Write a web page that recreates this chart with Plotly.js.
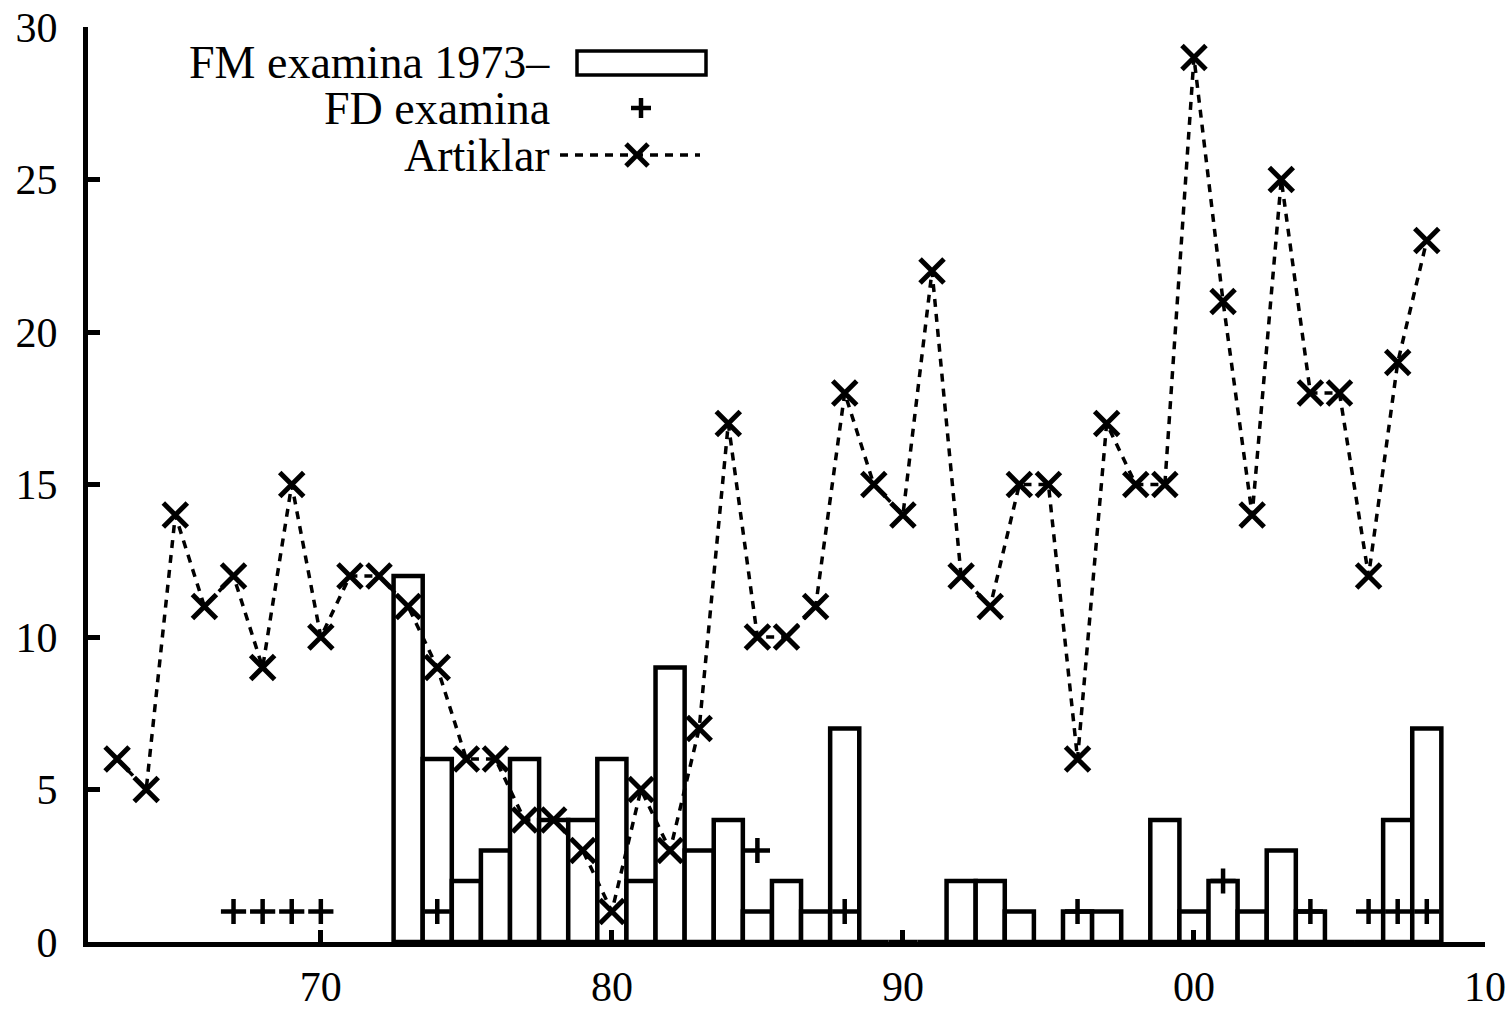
<!DOCTYPE html>
<html>
<head>
<meta charset="utf-8">
<script src="https://cdn.plot.ly/plotly-3.0.1.min.js"></script>
<style>html,body{margin:0;padding:0;background:#fff;}#chart{width:1512px;height:1011px;}</style>
</head>
<body>
<div id="chart"></div>
<script>
// Years are given as years since 1900 (63 = 1963, 108 = 2008)
const fmYears = [73,74,75,76,77,78,79,80,81,82,83,84,85,86,87,88,89,90,91,92,93,94,95,96,97,98,99,100,101,102,103,104,105,106,107,108];
const fmValues = [12,6,2,3,6,4,4,6,2,9,3,4,1,2,1,7,0,0,0,2,2,1,0,1,1,0,4,1,2,1,3,1,0,0,4,7];

const fdYears = [67,68,69,70,74,85,88,96,101,104,106,107,108];
const fdValues = [1,1,1,1,1,3,1,1,2,1,1,1,1];

const artYears = [63,64,65,66,67,68,69,70,71,72,73,74,75,76,77,78,79,80,81,82,83,84,85,86,87,88,89,90,91,92,93,94,95,96,97,98,99,100,101,102,103,104,105,106,107,108];
const artValues = [6,5,14,11,12,9,15,10,12,12,11,9,6,6,4,4,3,1,5,3,7,17,10,10,11,18,15,14,22,12,11,15,15,6,17,15,15,29,21,14,25,18,18,12,19,23];

const xTickVals = [70,80,90,100,110];
const xTickText = ["70","80","90","00","10"];
const yTickVals = [0,5,10,15,20,25,30];

const legendLabels = ["FM examina 1973\u2013","FD examina","Artiklar"];

const FONT = "Liberation Serif, Times New Roman, serif";
const W = 1512, H = 1011;
const L = 88, R = 1485, T = 27, B = 942;
const px = x => (x - L) / (R - L);
const py = y => (B - y) / (B - T);

const traces = [
  {
    type: 'bar', x: fmYears, y: fmValues, width: 1,
    marker: {color: 'white', line: {color: 'black', width: 4.5}},
    name: legendLabels[0], showlegend: false, hoverinfo: 'x+y'
  },
  {
    type: 'scatter', mode: 'markers', x: fdYears, y: fdValues,
    marker: {symbol: 'cross-thin', size: 18, color: 'black', line: {color: 'black', width: 4.5}},
    name: legendLabels[1], showlegend: false, cliponaxis: false
  },
  {
    type: 'scatter', mode: 'lines+markers', x: artYears, y: artValues,
    line: {color: 'black', width: 3.5, dash: '8px,7px'},
    marker: {symbol: 'x-thin', size: 24, color: 'black', line: {color: 'black', width: 5}},
    name: legendLabels[2], showlegend: false, cliponaxis: false
  }
];

const textY = [63, 108, 155];
const annotations = legendLabels.map((t, i) => ({
  xref: 'paper', yref: 'paper', x: px(552), y: py(textY[i]),
  xanchor: 'right', yanchor: 'middle', showarrow: false,
  text: t, font: {family: FONT, size: 46, color: 'black'}
}));

const shapes = [
  {type: 'rect', xref: 'paper', yref: 'paper', x0: px(577), x1: px(706), y0: py(75), y1: py(51),
   line: {color: 'black', width: 3.5}, fillcolor: 'white'},
  {type: 'line', xref: 'paper', yref: 'paper', x0: px(631), x1: px(651), y0: py(108), y1: py(108), line: {color: 'black', width: 4.5}},
  {type: 'line', xref: 'paper', yref: 'paper', x0: px(641), x1: px(641), y0: py(98), y1: py(118), line: {color: 'black', width: 4.5}},
  {type: 'line', xref: 'paper', yref: 'paper', x0: px(560), x1: px(700), y0: py(155), y1: py(155), line: {color: 'black', width: 3.5, dash: '8px,7px'}},
  {type: 'line', xref: 'paper', yref: 'paper', x0: px(626), x1: px(648), y0: py(144), y1: py(166), line: {color: 'black', width: 5}},
  {type: 'line', xref: 'paper', yref: 'paper', x0: px(626), x1: px(648), y0: py(166), y1: py(144), line: {color: 'black', width: 5}}
];

const layout = {
  width: W, height: H,
  margin: {l: L, r: W - R, t: T, b: H - B, pad: 0},
  paper_bgcolor: 'white', plot_bgcolor: 'white',
  showlegend: false, bargap: 0,
  font: {family: FONT, color: 'black'},
  xaxis: {
    range: [62, 110], tickvals: xTickVals, ticktext: xTickText,
    showgrid: false, zeroline: false, showline: true, linecolor: 'black', linewidth: 5,
    ticks: 'inside', ticklen: 12, tickwidth: 5, tickcolor: 'black',
    tickfont: {family: FONT, size: 42, color: 'black'}, ticklabelstandoff: 4
  },
  yaxis: {
    range: [0, 30], tickvals: yTickVals,
    showgrid: false, zeroline: false, showline: true, linecolor: 'black', linewidth: 5,
    ticks: 'inside', ticklen: 12, tickwidth: 5, tickcolor: 'black',
    tickfont: {family: FONT, size: 42, color: 'black'}, ticklabelstandoff: 17
  },
  annotations: annotations,
  shapes: shapes
};

Plotly.newPlot('chart', traces, layout, {staticPlot: true, displayModeBar: false});
</script>
</body>
</html>
